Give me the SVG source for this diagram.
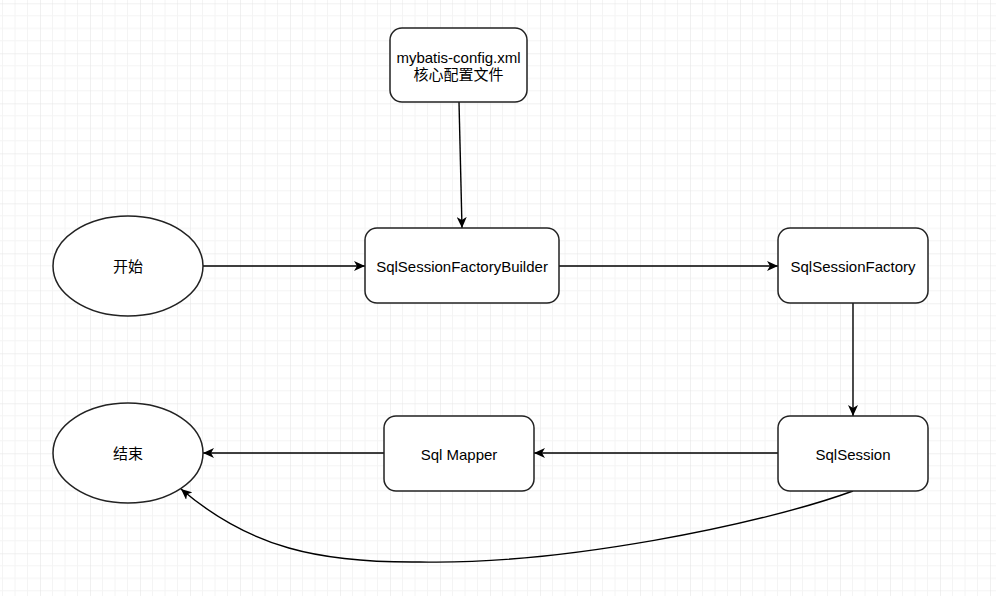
<svg xmlns="http://www.w3.org/2000/svg" width="996" height="596" viewBox="0 0 996 596">
<defs>
<pattern id="grid" patternUnits="userSpaceOnUse" x="40" y="3.3" width="50" height="50">
<path d="M12.5,0V50M25,0V50M37.5,0V50M0,12.5H50M0,25H50M0,37.5H50" stroke="#f4f4f4" stroke-width="1" fill="none"/>
<path d="M0,0V50M0,0H50" stroke="#e2e2e2" stroke-width="1" fill="none"/>
</pattern>
<marker id="arr" markerUnits="userSpaceOnUse" markerWidth="12" markerHeight="10" refX="11" refY="5" orient="auto" viewBox="0 0 12 10">
<path d="M0,0 L11,5 L0,10 L3,5 Z" fill="#000"/>
</marker>
</defs>
<style>
.node{fill:#fff;stroke:#222;stroke-width:1.5}
.lbl{font-family:"Liberation Sans","Noto Sans CJK SC",Arial,sans-serif;font-size:15px;fill:#000;text-anchor:middle}
.edge{fill:none;stroke:#000;stroke-width:1.4;marker-end:url(#arr)}
</style>
<rect width="996" height="596" fill="#fff"/>
<rect width="996" height="596" fill="url(#grid)"/>
<g id="connectors">
<path class="edge" d="M459,102 L462,228"/>
<path class="edge" d="M203,266 L365,266"/>
<path class="edge" d="M559,266 L778,266"/>
<path class="edge" d="M853,303 L853,416"/>
<path class="edge" d="M778,453 L534,453"/>
<path class="edge" d="M384,453 L203,453"/>
<path class="edge" d="M853,491 C760,525 560,565 420,562 C320,563 250,548 181,489"/>
</g>
<g id="node-config">
<rect class="node" x="390" y="28" width="137" height="74" rx="12"/>
<text class="lbl" x="458.5" y="63">mybatis-config.xml</text>
<text class="lbl" x="458.5" y="80">核心配置文件</text>
</g>
<g id="node-start">
<ellipse class="node" cx="128" cy="266" rx="75" ry="50"/>
<text class="lbl" x="128" y="272">开始</text>
</g>
<g id="node-builder">
<rect class="node" x="365" y="228" width="194" height="75" rx="12"/>
<text class="lbl" x="462" y="272">SqlSessionFactoryBuilder</text>
</g>
<g id="node-factory">
<rect class="node" x="778" y="228" width="150" height="75" rx="12"/>
<text class="lbl" x="853" y="272">SqlSessionFactory</text>
</g>
<g id="node-session">
<rect class="node" x="778" y="416" width="150" height="75" rx="12"/>
<text class="lbl" x="853" y="460">SqlSession</text>
</g>
<g id="node-mapper">
<rect class="node" x="384" y="416" width="150" height="75" rx="12"/>
<text class="lbl" x="459" y="460">Sql Mapper</text>
</g>
<g id="node-end">
<ellipse class="node" cx="128" cy="453" rx="75" ry="50"/>
<text class="lbl" x="128" y="459">结束</text>
</g>
</svg>
